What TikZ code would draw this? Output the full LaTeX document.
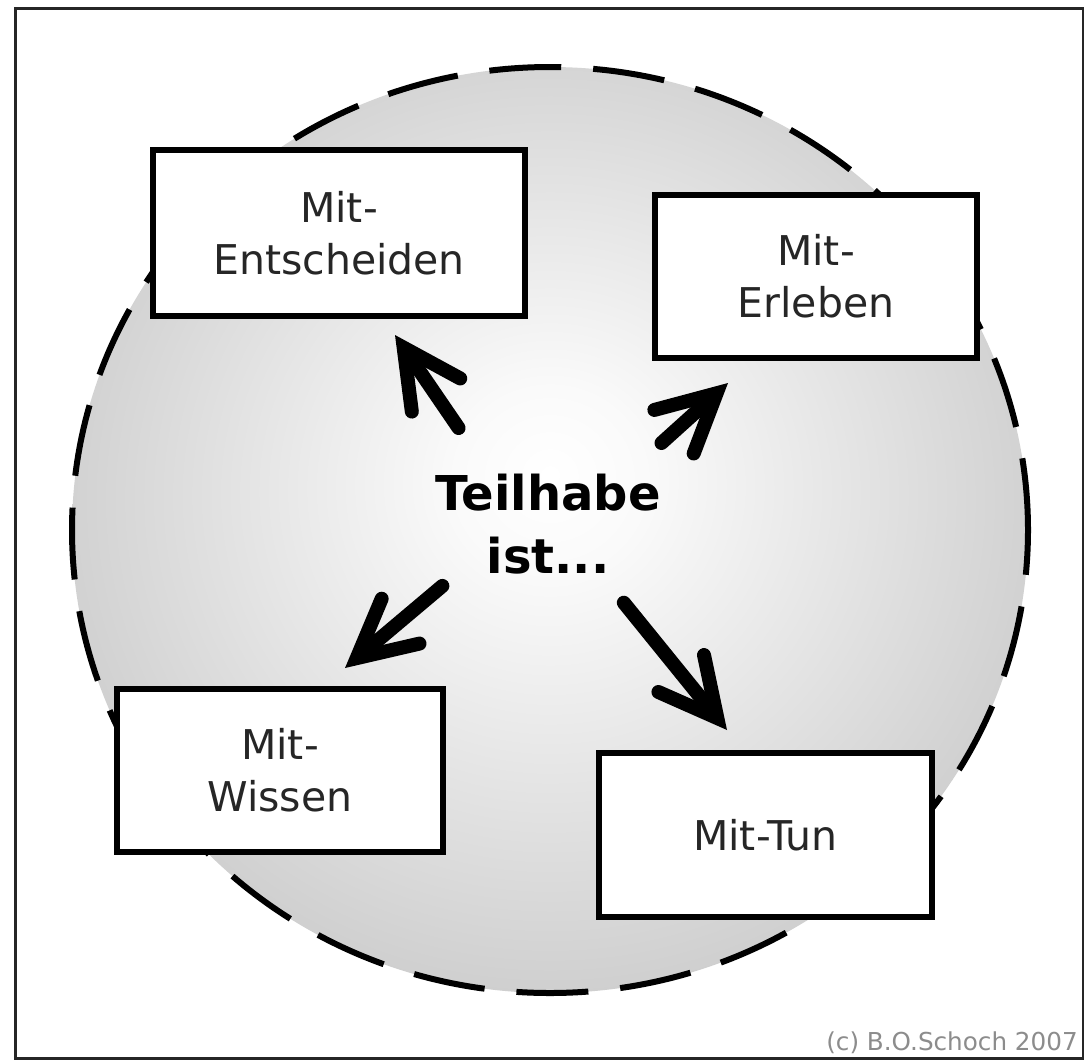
\documentclass[tikz,border=0pt]{standalone}
\usepackage{fontspec}
\setmainfont{DejaVu Sans}
\usetikzlibrary{arrows.meta}
\pgfdeclareradialshading{discshade}{\pgfpoint{0bp}{3bp}}{color(0bp)=(white); color(5bp)=(white!98!black); color(28bp)=(black!20); color(50bp)=(black!32)}
\tikzset{
  frame/.style={draw=black!85, line width=2.2pt},
  rim/.style={draw=black, line width=4.5pt, dash pattern=on 54pt off 24pt},
  mbox/.style={draw=black, fill=white, line width=5pt, inner sep=0pt, align=center,
    text=black!85, font=\fontsize{30.75}{39}\selectfont},
  centre/.style={align=center, inner sep=0pt, font=\bfseries\fontsize{36}{47}\selectfont},
  bigarrow/.style={draw=black, line width=10.5pt, line cap=round,
    -{Straight Barb[length=43pt, width=44pt, line cap=round, line join=miter]}},
  credit/.style={anchor=base east, inner sep=0pt, text=black!45, font=\fontsize{18.5}{22}\selectfont}
}
\begin{document}
\begin{tikzpicture}[x=0.75pt,y=-0.75pt]
\useasboundingbox (0,0) rectangle (1085,1061);
\fill[white] (0,0) rectangle (1085,1061);
\draw[frame] (15.5,8.5) rectangle (1083,1058.5);
% disc
\shade[shading=discshade] (550,530) ellipse [x radius=358.5pt, y radius=347.25pt];
\draw[rim] (550,530) ellipse [x radius=358.5pt, y radius=347.25pt];
% boxes
\node[mbox, minimum width=279pt, minimum height=124.5pt] (ent) at (339,233) {Mit-\\Entscheiden};
\node[mbox, minimum width=241.5pt, minimum height=122.25pt] (erl) at (816,276.5) {Mit-\\Erleben};
\node[mbox, minimum width=244.5pt, minimum height=122.25pt] (wis) at (280,770.5) {Mit-\\Wissen};
\node[mbox, minimum width=249.75pt, minimum height=123pt] (tun) at (765.5,835) {Mit-Tun};
% centre text
\node[centre] (teil) at (548,524) {Teilhabe\\ist...};
% arrows
\coordinate (a1s) at (458.6,428);
\coordinate (a1e) at (395,335);
\coordinate (a2s) at (661.5,443);
\coordinate (a2e) at (728,383);
\coordinate (a3s) at (442.4,585.9);
\coordinate (a3e) at (345,668);
\coordinate (a4s) at (623.8,602.7);
\coordinate (a4e) at (727,730);
\draw[bigarrow] (a1s) -- (a1e);
\draw[bigarrow] (a2s) -- (a2e);
\draw[bigarrow] (a3s) -- (a3e);
\draw[bigarrow] (a4s) -- (a4e);
% credit
\node[credit] (copy) at (1078,1050) {(c) B.O.Schoch 2007};
\end{tikzpicture}
\end{document}
